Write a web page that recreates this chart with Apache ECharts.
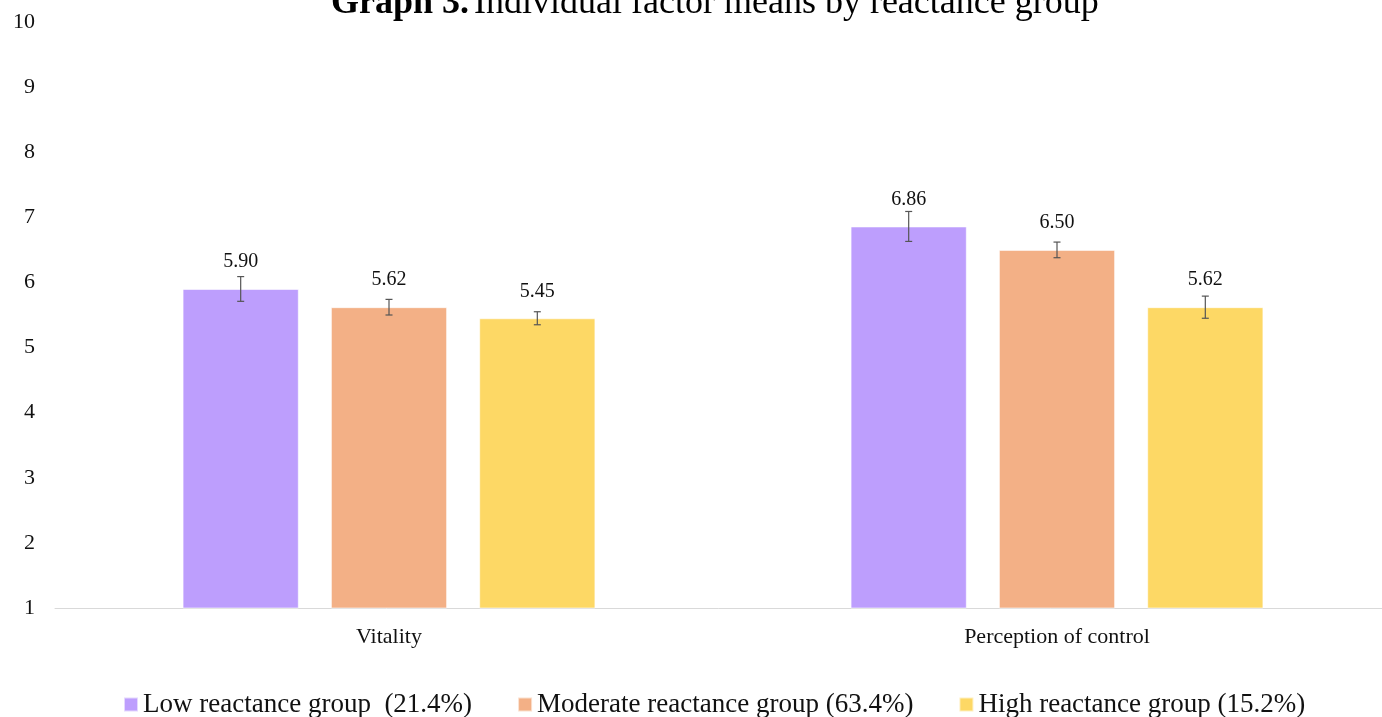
<!DOCTYPE html>
<html>
<head>
<meta charset="utf-8">
<script src="https://cdn.jsdelivr.net/npm/echarts@6/dist/echarts.min.js"></script>
<style>html,body{margin:0;padding:0;background:#fff}#c{width:1382px;height:717px}</style>
</head>
<body>
<div id="c"></div>
<script>
var categories = ['Vitality', 'Perception of control'];
var seriesNames = ['Low reactance group  (21.4%)', 'Moderate reactance group (63.4%)', 'High reactance group (15.2%)'];
var lowValues = [5.90, 6.86];
var moderateValues = [5.62, 6.50];
var highValues = [5.45, 5.62];
var lowErr = [0.19, 0.23];
var moderateErr = [0.12, 0.12];
var highErr = [0.10, 0.17];
var yTicks = [1, 2, 3, 4, 5, 6, 7, 8, 9, 10];

var colors = ['#BD9EFD', '#F3B086', '#FDD865'];
var values = [lowValues, moderateValues, highValues];
var errs = [lowErr, moderateErr, highErr];
var FONT = '"Liberation Serif", "Times New Roman", serif';
var BAR_FRAC = 0.174, GAP_FRAC = 0.276;

var chart = echarts.init(document.getElementById('c'));
var series = [];
values.forEach(function (vals, i) {
  series.push({
    name: seriesNames[i], type: 'bar', data: vals,
    barWidth: (BAR_FRAC * 100) + '%', barGap: (GAP_FRAC * 100) + '%',
    itemStyle: { color: colors[i], borderColor: 'rgba(255,255,255,0.6)', borderWidth: 1 },
    label: { show: true, position: 'top', distance: 17, formatter: function (p) { return p.value.toFixed(2); },
      fontFamily: FONT, fontSize: 20, color: '#111' }
  });
});
values.forEach(function (vals, i) {
  series.push({
    type: 'custom', silent: true, z: 5,
    data: vals.map(function (v, k) { return [k, v - errs[i][k], v + errs[i][k]]; }),
    renderItem: function (params, api) {
      var band = api.size([1, 0])[0];
      var bw = band * BAR_FRAC;
      var off = (i - 1) * bw * (1 + GAP_FRAC);
      var lo = api.coord([api.value(0), api.value(1)]);
      var hi = api.coord([api.value(0), api.value(2)]);
      var x = lo[0] + off, cap = 3.5;
      var st = { stroke: '#555', lineWidth: 1.2 };
      return { type: 'group', children: [
        { type: 'line', shape: { x1: x, y1: lo[1], x2: x, y2: hi[1] }, style: st },
        { type: 'line', shape: { x1: x - cap, y1: lo[1], x2: x + cap, y2: lo[1] }, style: st },
        { type: 'line', shape: { x1: x - cap, y1: hi[1], x2: x + cap, y2: hi[1] }, style: st }
      ] };
    }
  });
});

chart.setOption({
  animation: false,
  title: {
    text: '{b|Graph 3.} {n|Individual factor means by reactance group}',
    left: 326, top: -19,
    textStyle: { rich: {
      b: { fontFamily: FONT, fontSize: 36, fontWeight: 'bold', color: '#000' },
      n: { fontFamily: FONT, fontSize: 36, fontWeight: 'normal', color: '#000' }
    } }
  },
  legend: {
    top: 686, left: 118, itemWidth: 14, itemHeight: 14, itemGap: 45,
    icon: 'rect',
    data: seriesNames,
    textStyle: { fontFamily: FONT, fontSize: 27, color: '#111' }
  },
  grid: { left: 55, top: 22, width: 1336, bottom: 109, containLabel: false, outerBoundsMode: 'none' },
  xAxis: {
    type: 'category', data: categories,
    axisLine: { lineStyle: { color: '#d9d9d9', width: 1 } },
    axisTick: { show: false },
    axisLabel: { fontFamily: FONT, fontSize: 22, color: '#111', margin: 18 }
  },
  yAxis: {
    type: 'value', min: yTicks[0], max: yTicks[yTicks.length - 1], interval: 1,
    axisLine: { show: false }, axisTick: { show: false }, splitLine: { show: false },
    axisLabel: { fontFamily: FONT, fontSize: 22, color: '#111', margin: 20 }
  },
  series: series
});
</script>
</body>
</html>
